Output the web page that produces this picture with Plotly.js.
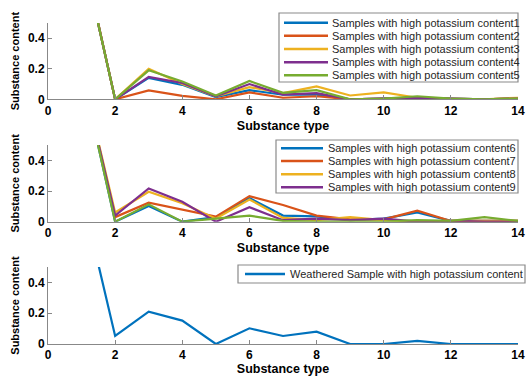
<!DOCTYPE html>
<html>
<head>
<meta charset="utf-8">
<script src="https://cdn.plot.ly/plotly-3.0.1.min.js"></script>
<style>html,body{margin:0;padding:0;background:#fff}#chart{width:527px;height:376px}</style>
</head>
<body>
<div id="chart"></div>
<script>
// ---- data ----
const substanceType = [1,2,3,4,5,6,7,8,9,10,11,12,13,14];

const names1 = ["Samples with high potassium content1","Samples with high potassium content2","Samples with high potassium content3","Samples with high potassium content4","Samples with high potassium content5"];
const high1 = [0.98, 0, 0.14, 0.095, 0.015, 0.06, 0.03, 0.03, 0, 0.005, 0.01, 0.005, 0, 0.005];
const high2 = [0.99, 0, 0.058, 0.023, 0, 0.045, 0.01, 0.02, 0, 0.005, 0.01, 0, 0, 0.005];
const high3 = [0.98, 0, 0.2, 0.1, 0.02, 0.08, 0.04, 0.085, 0.025, 0.045, 0.01, 0.005, 0, 0.01];
const high4 = [0.98, 0, 0.147, 0.107, 0.02, 0.1, 0.03, 0.04, 0, 0.005, 0.01, 0.005, 0, 0.005];
const high5 = [0.98, 0, 0.19, 0.117, 0.025, 0.12, 0.042, 0.06, 0, 0.005, 0.02, 0.005, 0, 0.005];

const names2 = ["Samples with high potassium content6","Samples with high potassium content7","Samples with high potassium content8","Samples with high potassium content9"];
const high6 = [0.98, 0, 0.102, 0, 0.03, 0.154, 0.04, 0.035, 0.01, 0.02, 0.06, 0.005, 0.005, 0.005];
const high7 = [0.98, 0.03, 0.124, 0.076, 0.033, 0.167, 0.109, 0.04, 0.015, 0.015, 0.072, 0.005, 0.005, 0.005];
const high8 = [0.98, 0.06, 0.195, 0.12, 0.02, 0.145, 0.025, 0.01, 0.03, 0.01, 0, 0.005, 0.005, 0.005];
const high9 = [0.98, 0.04, 0.217, 0.13, 0.0, 0.094, 0.01, 0.02, 0.01, 0.02, 0, 0.005, 0, 0];
const high10 = [0.98, 0, 0.113, 0, 0.02, 0.04, 0.005, 0, 0, 0, 0.01, 0.005, 0.03, 0.005];

const names3 = ["Weathered Sample with high potassium content"];
const weathered = [0.98, 0.052, 0.21, 0.152, 0, 0.102, 0.052, 0.08, 0, 0, 0.02, 0, 0, 0];

const xTickVals = [0,2,4,6,8,10,12,14];
const yTickVals = [0,0.2,0.4];
const xTitle = "Substance type";
const yTitle = "Substance content";

// ---- style ----
const COLORS = ["#0072BD","#D95319","#EDB120","#7E2F8E","#77AC30"];
const W = 527, H = 376;
const px = v => v / W;
const py = v => 1 - v / H;

function tr(y, i, name, xa, ya) {
  return {x: substanceType, y: y, type: "scatter", mode: "lines", name: name,
    xaxis: xa, yaxis: ya, showlegend: false,
    line: {color: COLORS[i], width: 2.2}};
}

const traces = [
  tr(high1,0,names1[0],"x","y"), tr(high2,1,names1[1],"x","y"), tr(high3,2,names1[2],"x","y"),
  tr(high4,3,names1[3],"x","y"), tr(high5,4,names1[4],"x","y"),
  tr(high6,0,names2[0],"x2","y2"), tr(high7,1,names2[1],"x2","y2"), tr(high8,2,names2[2],"x2","y2"),
  tr(high9,3,names2[3],"x2","y2"), tr(high10,4,"","x2","y2"),
  tr(weathered,0,names3[0],"x3","y3")
];

const tickFont = {family: "Liberation Sans, Arial, sans-serif", size: 12, color: "#000", weight: "bold"};
function xax(anchor, domY) {
  return {domain: [px(48), px(518)], anchor: anchor, range: [0,14], tickvals: xTickVals,
    ticks: "inside", ticklen: 4, tickcolor: "#888", showline: true, linecolor: "#888", linewidth: 1,
    showgrid: false, zeroline: false, tickfont: tickFont,
    title: {text: xTitle, standoff: 4, font: {family: "Liberation Sans, Arial, sans-serif", size: 12.5, color: "#000", weight: "bold"}}};
}
function yax(anchor, top, bottom) {
  return {domain: [py(bottom), py(top)], anchor: anchor, range: [0,0.5], tickvals: yTickVals,
    ticks: "inside", ticklen: 4, tickcolor: "#888", showline: true, linecolor: "#888", linewidth: 1,
    showgrid: false, zeroline: false, tickfont: tickFont,
    title: {text: yTitle, standoff: 6, font: {family: "Liberation Sans, Arial, sans-serif", size: 11, color: "#000", weight: "bold"}}};
}

// legends (drawn as boxes + text)
const shapes = [], annotations = [];
function legendBox(names, x0, x1, y0, y1, yCenters, lx0, lx1, tx) {
  shapes.push({type: "rect", xref: "paper", yref: "paper", x0: px(x0), x1: px(x1), y0: py(y1), y1: py(y0),
    line: {color: "#8a8a8a", width: 1.2}, fillcolor: "#fff", layer: "above"});
  names.forEach((n, i) => {
    shapes.push({type: "line", xref: "paper", yref: "paper", x0: px(lx0), x1: px(lx1), y0: py(yCenters[i]), y1: py(yCenters[i]),
      line: {color: COLORS[i], width: 2.5}, layer: "above"});
    annotations.push({xref: "paper", yref: "paper", x: px(tx), y: py(yCenters[i]), xanchor: "left", yanchor: "middle",
      showarrow: false, text: n, font: {family: "Liberation Sans, Arial, sans-serif", size: 11, color: "#262626"}});
  });
}
legendBox(names1, 279, 518, 13, 82, [22.7, 35.7, 49, 62.3, 75.3], 284, 328, 330);
legendBox(names2, 276, 518, 140, 193, [148.3, 161, 174.3, 187.3], 281, 323, 326);
legendBox(names3, 238, 525, 265, 283, [274], 245, 285, 288);

const layout = {
  width: W, height: H, margin: {l: 0, r: 0, t: 0, b: 0},
  paper_bgcolor: "#fff", plot_bgcolor: "#fff", showlegend: false,
  font: {family: "Liberation Sans, Arial, sans-serif"},
  xaxis: xax("y"), yaxis: yax("x", 23, 99.3),
  xaxis2: xax("y2"), yaxis2: yax("x2", 145, 221.7),
  xaxis3: xax("y3"), yaxis3: yax("x3", 267, 344),
  shapes: shapes, annotations: annotations
};

Plotly.newPlot("chart", traces, layout, {staticPlot: true, displayModeBar: false});
</script>
</body>
</html>
